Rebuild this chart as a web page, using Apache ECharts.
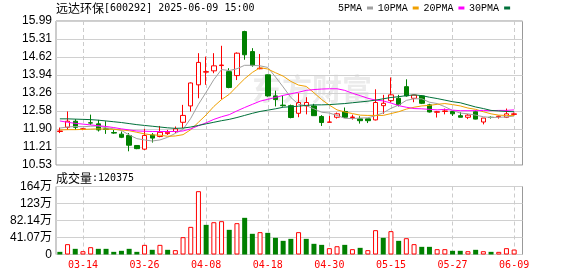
<!DOCTYPE html>
<html><head><meta charset="utf-8">
<script src="https://cdn.jsdelivr.net/npm/echarts/dist/echarts.min.js"></script>
<style>html,body{margin:0;padding:0;background:#fff}#c{width:578px;height:276px}</style>
</head><body><div id="c"></div>
<script>
const stockTitle = '远达环保';
const stockCode = '[600292] 2025-06-09 15:00';
const lastVolume = '120375';
const dates = ['03-11','03-12','03-13','03-14','03-17','03-18','03-19','03-20','03-21','03-24','03-25','03-26','03-27','03-28','03-31','04-01','04-02','04-03','04-07','04-08','04-09','04-10','04-11','04-14','04-15','04-16','04-17','04-18','04-21','04-22','04-23','04-24','04-25','04-28','04-29','04-30','05-06','05-07','05-08','05-09','05-12','05-13','05-14','05-15','05-16','05-19','05-20','05-21','05-22','05-23','05-26','05-27','05-28','05-29','05-30','06-03','06-04','06-05','06-06','06-09'];
const opens  = [11.80,11.96,12.19,11.89,12.13,12.09,11.90,11.76,11.70,11.65,11.27,11.13,11.67,11.61,11.72,11.80,12.15,12.77,13.57,14.05,14.10,14.30,14.07,13.92,15.59,14.83,14.18,13.95,13.15,12.80,12.78,12.49,12.77,12.77,12.37,12.15,12.34,12.56,12.33,12.28,12.28,12.24,12.78,12.97,13.06,13.50,13.06,13.15,12.81,12.53,12.56,12.56,12.40,12.34,12.55,12.16,12.34,12.36,12.34,12.45];
const closes = [11.82,12.19,11.96,11.90,12.12,11.86,11.88,11.74,11.58,11.28,11.15,11.65,11.55,11.77,11.77,11.90,12.41,13.64,14.42,14.07,14.29,14.32,13.47,14.77,14.71,14.30,14.20,13.15,13.01,12.78,12.33,12.90,12.90,12.40,12.14,12.16,12.47,12.34,12.35,12.21,12.21,12.90,12.87,13.19,12.81,13.15,13.18,12.87,12.54,12.55,12.58,12.47,12.34,12.42,12.27,12.31,12.33,12.38,12.47,12.47];
const lows   = [11.74,11.86,11.86,11.85,12.05,11.80,11.71,11.71,11.55,11.05,11.13,11.10,11.38,11.58,11.67,11.74,11.93,12.56,13.06,13.57,14.01,13.02,13.44,13.75,14.52,14.26,14.16,13.12,12.75,12.74,12.30,12.34,12.45,12.40,12.01,12.15,12.29,12.31,12.25,12.10,12.12,12.22,12.47,12.90,12.75,13.12,12.91,12.84,12.52,12.33,12.45,12.39,12.34,12.27,12.26,12.07,12.29,12.29,12.31,12.40];
const highs  = [11.95,12.56,12.27,11.93,12.44,12.24,12.19,11.86,11.80,11.74,11.27,11.90,11.74,12.01,11.86,11.99,12.81,13.66,14.77,14.64,14.77,15.05,14.20,14.80,15.62,14.96,14.74,13.96,13.35,13.15,12.82,13.25,13.10,12.85,12.42,12.39,12.52,12.71,12.44,12.38,12.28,13.40,13.19,13.85,13.19,13.78,13.18,13.18,12.85,12.58,12.67,12.57,12.53,12.46,12.60,12.31,12.37,12.40,12.67,12.52];
const ma5  = [11.93,11.97,11.99,11.98,12.00,12.01,11.94,11.90,11.84,11.67,11.53,11.48,11.44,11.48,11.58,11.73,11.88,12.30,12.83,13.29,13.77,14.15,14.11,14.18,14.31,14.31,14.29,14.23,13.87,13.49,13.09,12.83,12.78,12.66,12.53,12.50,12.41,12.30,12.29,12.31,12.32,12.40,12.51,12.68,12.80,12.98,13.04,13.04,12.91,12.86,12.74,12.60,12.50,12.47,12.42,12.36,12.33,12.34,12.35,12.39];
const ma10 = [11.86,11.87,11.87,11.88,11.89,11.90,11.89,11.88,11.86,11.83,11.77,11.71,11.67,11.66,11.62,11.63,11.68,11.87,12.15,12.43,12.75,13.01,13.21,13.51,13.80,14.04,14.22,14.17,14.03,13.90,13.70,13.56,13.51,13.27,13.01,12.80,12.62,12.54,12.48,12.42,12.41,12.41,12.41,12.48,12.55,12.65,12.72,12.77,12.79,12.83,12.86,12.82,12.77,12.69,12.64,12.55,12.47,12.42,12.41,12.40];
const ma20 = [12.20,12.15,12.11,12.08,12.05,12.02,11.99,11.95,11.90,11.86,11.82,11.81,11.80,11.80,11.80,11.80,11.82,11.90,12.02,12.13,12.26,12.36,12.44,12.58,12.71,12.83,12.95,13.02,13.09,13.17,13.23,13.29,13.36,13.39,13.41,13.42,13.42,13.36,13.25,13.16,13.06,12.99,12.96,12.88,12.78,12.72,12.67,12.66,12.64,12.62,12.64,12.61,12.59,12.59,12.59,12.60,12.59,12.60,12.60,12.62];
const ma30 = [12.28,12.28,12.27,12.26,12.25,12.23,12.20,12.17,12.14,12.10,12.06,12.03,12.00,11.97,11.94,11.92,11.93,11.97,12.03,12.09,12.15,12.21,12.26,12.33,12.41,12.49,12.56,12.61,12.66,12.72,12.74,12.76,12.79,12.81,12.81,12.82,12.84,12.86,12.89,12.92,12.95,12.99,13.04,13.09,13.12,13.16,13.19,13.16,13.10,13.05,12.99,12.93,12.89,12.81,12.73,12.67,12.60,12.58,12.56,12.55];
const volumes = [6.4,25.0,13.7,8.0,17.7,13.7,13.7,6.4,8.9,13.7,6.4,23.3,11.3,23.3,11.3,10.5,41.9,66.8,153.0,71.6,78.0,80.5,59.6,75.7,88.6,50.0,54.0,52.3,40.3,33.0,37.8,54.0,37.8,25.8,23.3,15.3,20.0,23.3,12.9,16.1,10.5,58.8,40.3,56.4,33.0,39.4,25.0,18.5,18.5,12.9,12.9,8.9,8.9,8.0,11.3,8.0,6.4,6.4,15.3,12.04];
const volUp = [0,1,0,1,1,0,0,0,0,0, 0,1,0,1,0,1,1,1,1,0, 1,1,0,1,0,0,1,0,0,0, 0,1,0,0,0,1,1,0,1,0, 1,1,0,1,0,1,1,0,0,1, 1,0,0,1,0,1,0,1,1,1];
const priceTicks = ['10.53','11.21','11.90','12.58','13.26','13.94','14.62','15.31','15.99'];
const volTicks = ['0','41.07万','82.14万','123万','164万'];
const maNames = ['5PMA','10PMA','20PMA','30PMA'];

const PMIN = 10.53, PMAX = 15.99, PSTEP = 0.6825;
const VMAX = 164.28, VSTEP = 41.07;
const RED = '#ff0000', GREEN = '#008000';
const maColors = ['#a0a0a0', '#f0a000', '#ff00ff', '#00703a'];
const labelEvery = (i) => i % 8 === 3;

const chart = echarts.init(document.getElementById('c'), null, {renderer: 'canvas'});
const frameGrid = {show: true, borderColor: '#999999', borderWidth: 1, backgroundColor: 'transparent'};
const hiddenX = (g) => ({type: 'category', gridIndex: g, data: dates, show: false});
const dataX = (g, showLabel) => ({
  type: 'category', gridIndex: g, data: dates, boundaryGap: true,
  axisLine: {show: false}, axisTick: {show: false},
  axisLabel: {show: showLabel, interval: labelEvery, color: RED, fontFamily: 'DejaVu Sans Mono', fontSize: 10, margin: 6},
  splitLine: {show: true, interval: labelEvery, alignWithLabel: true, lineStyle: {color: '#cccccc', type: [4, 3], width: 1}}
});
const richText = {
  a: {fontFamily: 'Noto Sans CJK SC', fontSize: 12, fontWeight: 'normal', color: '#000'},
  b: {fontFamily: 'DejaVu Sans Mono', fontSize: 10, fontWeight: 'normal', color: '#000'}
};

chart.setOption({
  animation: false,
  backgroundColor: '#ffffff',
  title: [
    {text: '{a|' + stockTitle + '}{b|' + stockCode + '}', left: 56, top: 2, padding: 0,
     textStyle: {fontSize: 12, fontWeight: 'normal', rich: richText}},
    {text: '{a|成交量}{b|:' + lastVolume + '}', left: 56, top: 172, padding: 0,
     textStyle: {fontSize: 12, fontWeight: 'normal', rich: richText}}
  ],
  legend: {
    data: maNames, left: 338, top: 3, padding: 0, align: 'right', icon: 'rect',
    itemWidth: 6, itemHeight: 3, itemGap: 4.7,
    textStyle: {fontFamily: 'Liberation Mono', fontSize: 10, color: '#000'}
  },
  graphic: [{type: 'text', left: 252, top: 74, z: 0, silent: true,
    style: {text: '东方财富', fill: '#ebebeb', font: 'bold 30px "Noto Sans CJK SC"'}}],
  grid: [
    Object.assign({left: 56, top: 21, width: 466.5, height: 144}, frameGrid),
    {left: 56, top: 21, width: 462, height: 144},
    Object.assign({left: 56, top: 186.5, width: 466.5, height: 68}, frameGrid),
    {left: 56, top: 186.5, width: 462, height: 68}
  ],
  xAxis: [hiddenX(0), dataX(1, false), hiddenX(2), dataX(3, true)],
  yAxis: [
    {type: 'value', gridIndex: 0, min: PMIN, max: PMAX, interval: PSTEP,
     axisLine: {show: false}, axisTick: {show: false},
     axisLabel: {margin: 4, color: '#000', fontFamily: 'Liberation Sans', fontSize: 12,
       formatter: (v) => priceTicks[Math.round((v - PMIN) / PSTEP)] || ''},
     splitLine: {lineStyle: {color: '#d0d0d0', width: 1}}},
    {type: 'value', gridIndex: 1, min: PMIN, max: PMAX, show: false},
    {type: 'value', gridIndex: 2, min: 0, max: VMAX, interval: VSTEP,
     axisLine: {show: false}, axisTick: {show: false},
     axisLabel: {margin: 4, color: '#000', fontFamily: 'Liberation Sans, Noto Sans CJK SC', fontSize: 12,
       formatter: (v) => volTicks[Math.round(v / VSTEP)] || ''},
     splitLine: {lineStyle: {color: '#d0d0d0', width: 1}}},
    {type: 'value', gridIndex: 3, min: 0, max: VMAX, show: false}
  ],
  series: [
    {type: 'candlestick', name: 'K', xAxisIndex: 1, yAxisIndex: 1, barWidth: 5,
     data: opens.map((o, i) => [o, closes[i], lows[i], highs[i]]),
     itemStyle: {color: '#ffffff', color0: GREEN, borderColor: RED, borderColor0: GREEN, borderWidth: 1}},
    ...[ma5, ma10, ma20, ma30].map((arr, k) => ({
      type: 'line', name: maNames[k], xAxisIndex: 1, yAxisIndex: 1, data: arr,
      symbol: 'none', smooth: false, color: maColors[k],
      lineStyle: {width: 1, color: maColors[k]}, itemStyle: {color: maColors[k]}, z: 3
    })),
    {type: 'bar', name: 'VOL', xAxisIndex: 3, yAxisIndex: 3, barWidth: 5,
     data: volumes.map((v, i) => ({value: v, itemStyle: volUp[i]
       ? {color: '#ffffff', borderColor: RED, borderWidth: 1}
       : {color: GREEN, borderColor: GREEN, borderWidth: 0}}))}
  ]
});
</script></body></html>
